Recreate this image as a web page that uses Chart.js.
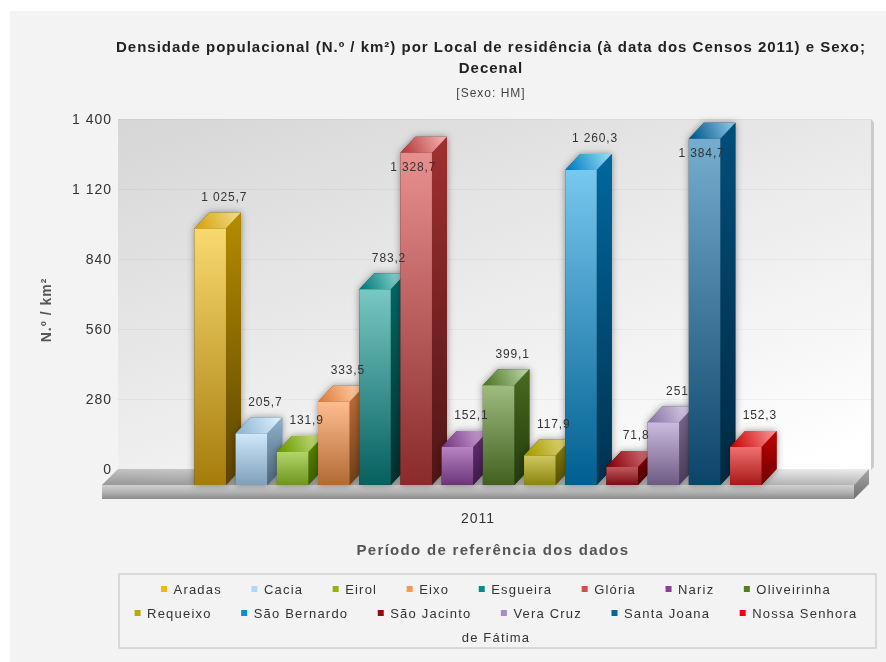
<!DOCTYPE html>
<html lang="pt">
<head>
<meta charset="utf-8">
<title>Densidade populacional</title>
<script src="https://cdn.jsdelivr.net/npm/chart.js@4"></script>
<style>
html,body{margin:0;padding:0;background:#fff;}
#wrap{width:886px;height:662px;}
canvas{display:block;filter:blur(0.55px);}
</style>
</head>
<body>
<div id="wrap"><canvas id="c" width="886" height="662"></canvas></div>
<script>
// ---- data ----
const periods = ['2011'];
const places = ['Aradas','Cacia','Eirol','Eixo','Esgueira','Glória','Nariz','Oliveirinha','Requeixo','São Bernardo','São Jacinto','Vera Cruz','Santa Joana','Nossa Senhora de Fátima'];
const density = [1025.7,205.7,131.9,333.5,783.2,1328.7,152.1,399.1,117.9,1260.3,71.8,251,1384.7,152.3];
const yTicks = [0,280,560,840,1120,1400];
const titleLines = ['Densidade populacional (N.º / km²) por Local de residência (à data dos Censos 2011) e Sexo;','Decenal'];
const subtitleText = '[Sexo: HM]';
const xTitle = 'Período de referência dos dados';
const yTitle = 'N.º / km²';

// ---- styles ----
const legendColors = ['#f5b800','#b0d8f5','#8cb800','#ff9650','#008c8c','#dc4a4a','#8e3d9c','#4f7f20','#b8ac00','#0090dc','#a00010','#a68cc8','#00689c','#f00010'];
const frontTop = ['#f9d96e','#cfe8fb','#b4d46a','#ffbd8f','#78c8c4','#e89090','#b884c0','#a0bc80','#d0c860','#78c8f0','#c05a60','#cbbcdf','#76aed0','#f07070'];
const frontBottom = ['#a57c0c','#7f9fba','#6d9520','#b06a35','#06605e','#8a2a2a','#6b3578','#41601f','#8a8410','#005f90','#7a0d14','#6e5a84','#0a4468','#a81818'];
const sideTop = ['#b58c00','#8fb0cc','#5c8a00','#c8703a','#006b68','#a03030','#6a2e78','#4a6a20','#8a8410','#0068a0','#8a0000','#7a6a90','#004f7c','#c00000'];
const sideBottom = ['#5c4500','#4d6478','#3e5f00','#6d3f1a','#002f2e','#501515','#3e1a48','#233a0c','#555000','#00324f','#4d0000','#4a3c5c','#002a42','#700000'];
const topLight = ['#f0d77f','#d8ecfb','#c4dc80','#ffcfa8','#8fd4d0','#eea8a8','#c8a0d0','#b4cca0','#dcd478','#8cd4f4','#c87078','#d8cce8','#84bcdc','#f48888'];
const topDark = ['#d7a40f','#8fb5d5','#6a9a00','#e07f40','#007f7c','#b83c3c','#7a3a88','#4f7a24','#a89c00','#0080c0','#900008','#8c78a8','#005c90','#cc0808'];

const DX = 15, DY = 16;   // depth of the 3D projection
const BODY_FONT = '"Liberation Sans", Arial, sans-serif';

function fmt(v){
  const neg = v < 0;
  const [i,d] = Math.abs(v).toString().split('.');
  const s = i.replace(/\B(?=(\d{3})+(?!\d))/g,' ');
  return (neg?'-':'') + s + (d ? ',' + d : '');
}
function poly(ctx, pts){
  ctx.beginPath();
  pts.forEach((p,i)=> i ? ctx.lineTo(p[0],p[1]) : ctx.moveTo(p[0],p[1]));
  ctx.closePath();
}
function vGrad(ctx,y0,y1,stops){
  const g = ctx.createLinearGradient(0,y0,0,y1);
  stops.forEach((c,i)=>g.addColorStop(i/(stops.length-1),c));
  return g;
}

const stage3d = {
  id:'stage3d',
  beforeDraw(chart){
    const ctx = chart.ctx;
    ctx.letterSpacing = '1px';
    ctx.fillStyle = '#ffffff';
    ctx.fillRect(0,0,chart.width,chart.height);
    ctx.fillStyle = '#f3f3f3';
    ctx.fillRect(10,11,chart.width-10,chart.height-11);
  },
  beforeDatasetsDraw(chart){
    const ctx = chart.ctx, a = chart.chartArea, y = chart.scales.y;
    ctx.save();
    const wallL = a.left+DX+1, wallR = a.right+DX+2, wallT = a.top-DY, wallB = a.bottom-DY;
    // right edge of the wall
    ctx.fillStyle = '#cbcbcb';
    poly(ctx,[[wallR,wallT],[wallR+2,wallT+2],[wallR+3,wallT+4],[wallR+3,wallB-2],[wallR,wallB+1]]);
    ctx.fill();
    // back wall
    const w = ctx.createLinearGradient(wallL,wallT,wallL+173,wallT+516);
    w.addColorStop(0,'#d6d6d6'); w.addColorStop(1,'#ffffff');
    ctx.fillStyle = w;
    ctx.fillRect(wallL,wallT,wallR-wallL,wallB-wallT);
    // grid lines on the wall
    ctx.strokeStyle = 'rgba(0,0,0,0.035)';
    ctx.lineWidth = 1;
    yTicks.forEach(v=>{
      if(v===0) return;
      const py = Math.round(y.getPixelForValue(v)-DY)+0.5;
      ctx.beginPath(); ctx.moveTo(wallL,py); ctx.lineTo(wallR,py); ctx.stroke();
    });
    // floor
    const fT = a.bottom-DY, fB = a.bottom, sB = a.bottom+14;
    const topG = vGrad(ctx,fT,fB,['#ececec','#b4b4b4']);
    const topGL = ctx.createLinearGradient(a.left,0,a.right,0);
    ctx.fillStyle = topG;
    poly(ctx,[[a.left,fB],[a.left+DX+1,fT],[a.right+DX,fT],[a.right,fB]]);
    ctx.fill();
    // darker left of the floor top
    topGL.addColorStop(0,'rgba(70,70,70,0.26)'); topGL.addColorStop(0.5,'rgba(70,70,70,0.08)'); topGL.addColorStop(1,'rgba(70,70,70,0)');
    ctx.fillStyle = topGL; ctx.fill();
    // floor front
    ctx.fillStyle = vGrad(ctx,fB,sB,['#d0d0d0','#b4b4b4','#8a8a8a']);
    ctx.fillRect(a.left,fB,a.right-a.left,sB-fB);
    // floor side
    ctx.fillStyle = vGrad(ctx,fT,sB,['#a8a8a8','#6f6f6f']);
    poly(ctx,[[a.right,fB],[a.right+DX,fT],[a.right+DX,sB-DY+1],[a.right,sB]]);
    ctx.fill();
    // bars: side and top faces, painted left to right
    const metas = chart.getSortedVisibleDatasetMetas().slice().sort((m,n)=>m.index-n.index);
    metas.forEach(meta=>{
      const i = meta.index, b = meta.data[0];
      const half = b.width/2, L = b.x-half, R = b.x+half, T = b.y, B = b.base;
      const sil = [[L,T],[L+DX,T-DY],[R+DX,T-DY],[R+DX,B-DY],[R,B],[L,B]];
      ctx.save();
      ctx.shadowColor = 'rgba(0,0,0,0.42)';
      ctx.shadowBlur = 7;
      ctx.fillStyle = sideBottom[i];
      poly(ctx,sil); ctx.fill();
      ctx.restore();
      ctx.fillStyle = vGrad(ctx,T-DY,B,[sideTop[i],sideBottom[i]]);
      poly(ctx,[[R,T],[R+DX,T-DY],[R+DX,B-DY],[R,B]]); ctx.fill();
      const tg = ctx.createLinearGradient(L+4,T,R+DX-6,T-DY);
      tg.addColorStop(0,topDark[i]); tg.addColorStop(1,topLight[i]);
      ctx.fillStyle = tg;
      poly(ctx,[[L,T],[L+DX,T-DY],[R+DX,T-DY],[R,T]]); ctx.fill();
    });
    ctx.restore();
  },
  afterDatasetsDraw(chart){
    const ctx = chart.ctx, y = chart.scales.y;
    const wallTop = y.getPixelForValue(1400)-DY;
    ctx.save();
    ctx.letterSpacing = '0.85px';
    ctx.font = '12px '+BODY_FONT;
    ctx.textAlign = 'center';
    ctx.textBaseline = 'middle';
    ctx.fillStyle = '#333';
    chart.getSortedVisibleDatasetMetas().forEach(meta=>{
      const b = meta.data[0], v = density[meta.index];
      let lx = b.x+DX-1, ly = b.y-DY*2+1;
      if(ly-6 < wallTop){ lx = b.x-3; ly = b.y+15; }
      ctx.fillText(fmt(v),lx,ly);
    });
    ctx.restore();
  },
  afterDraw(chart){
    const ctx = chart.ctx;
    ctx.save();
    // x axis title
    ctx.letterSpacing = '1.3px';
    ctx.font = 'bold 15px '+BODY_FONT;
    ctx.fillStyle = '#555';
    ctx.textAlign = 'center';
    ctx.textBaseline = 'middle';
    ctx.fillText(xTitle,493,551);
    // legend
    const bx = 119, by = 574, bw = 757, bh = 74;
    ctx.strokeStyle = '#d0d0d0';
    ctx.lineWidth = 1.5;
    ctx.strokeRect(bx,by,bw,bh);
    ctx.letterSpacing = '1.2px';
    ctx.font = '13px '+BODY_FONT;
    ctx.textAlign = 'left';
    const maxW = 738, gap = 29.5, mark = 12.5, rowH = 24, firstRow = by+15;
    const rows = [[]]; let used = 0;
    const tw = s => ctx.measureText(s).width;
    places.forEach((name,i)=>{
      let w = mark+tw(name);
      const cur = rows[rows.length-1];
      const extra = cur.length ? gap : 0;
      if(used+extra+w <= maxW){ cur.push({i,text:name,w}); used += extra+w; return; }
      const words = name.split(' ');
      let head = '', k = 0;
      while(k < words.length){
        const t = head ? head+' '+words[k] : words[k];
        if(cur.length && used+gap+mark+tw(t) > maxW) break;
        head = t; k++;
      }
      if(cur.length && k>0 && k<words.length){
        cur.push({i,text:head,w:mark+tw(head)});
        const rest = words.slice(k).join(' ');
        rows.push([{i:-1,text:rest,w:tw(rest)}]);
        used = tw(rest);
      } else {
        rows.push([{i,text:name,w}]); used = w;
      }
    });
    const cx = bx+bw/2-1.5;
    rows.forEach((row,r)=>{
      const total = row.reduce((s,it)=>s+it.w,0)+gap*(row.length-1);
      let x = cx-total/2;
      const yy = firstRow+r*rowH;
      row.forEach(it=>{
        if(it.i>=0){
          ctx.fillStyle = legendColors[it.i];
          ctx.fillRect(x,yy-3,6,6);
          ctx.fillStyle = '#333';
          ctx.fillText(it.text,x+mark,yy+1);
        } else {
          ctx.fillStyle = '#333';
          ctx.fillText(it.text,x,yy+1);
        }
        x += it.w+gap;
      });
    });
    ctx.restore();
  }
};

new Chart(document.getElementById('c').getContext('2d'),{
  type:'bar',
  data:{
    labels:periods,
    datasets:places.map((name,i)=>({
      label:name,
      data:[density[i]],
      backgroundColor(c){
        const s = c.chart.scales.y;
        const y0 = s ? s.getPixelForValue(density[i]) : NaN, y1 = s ? s.getPixelForValue(0) : NaN;
        if(!isFinite(y0) || !isFinite(y1)) return frontTop[i];
        const g = c.chart.ctx.createLinearGradient(0,y0,0,y1);
        g.addColorStop(0,frontTop[i]); g.addColorStop(1,frontBottom[i]);
        return g;
      },
      borderWidth:0,
      categoryPercentage:0.767,
      barPercentage:0.765
    }))
  },
  plugins:[stage3d],
  options:{
    responsive:false,
    animation:false,
    layout:{padding:{left:96,right:0,top:12,bottom:0}},
    plugins:{
      legend:{display:false},
      tooltip:{enabled:false},
      title:{display:true,text:titleLines,color:'#222',font:{family:BODY_FONT,size:15,weight:'bold',lineHeight:1.4},padding:{top:25.5,bottom:0}},
      subtitle:{display:true,text:subtitleText,color:'#444',font:{family:BODY_FONT,size:12,lineHeight:1.2},padding:{top:7.3,bottom:33.8}}
    },
    scales:{
      x:{
        grid:{display:false,drawTicks:false},
        border:{display:false},
        ticks:{color:'#333',font:{family:BODY_FONT,size:14},padding:26},
        afterFit(s){s.height=177;}
      },
      y:{
        min:0,max:1400,
        afterBuildTicks(s){s.ticks=yTicks.map(v=>({value:v}));},
        grid:{display:false,drawTicks:false},
        border:{display:false},
        ticks:{color:'#333',font:{family:BODY_FONT,size:14},padding:-10,labelOffset:-DY+1,callback:v=>fmt(v)},
        title:{display:true,text:yTitle,color:'#555',font:{family:BODY_FONT,size:14,weight:'bold'},padding:{top:-57,bottom:0}},
        afterFit(s){s.width=6; s._computeLabelArea=()=>undefined;}
      },
      rightGutter:{
        type:'linear',position:'right',
        grid:{display:false,drawTicks:false},
        border:{display:false},
        ticks:{display:false},
        afterFit(s){s.width=32;}
      }
    }
  }
});
</script>
</body>
</html>
